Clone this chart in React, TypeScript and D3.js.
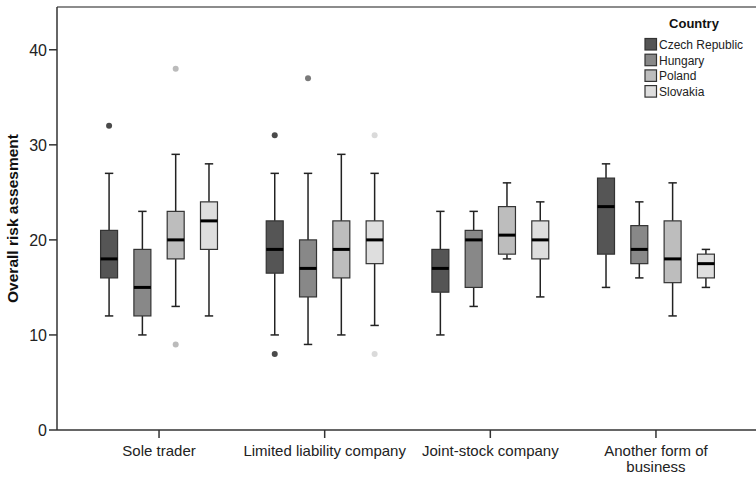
import React from "react";
import * as d3 from "d3";

const categories = ["Sole trader", "Limited liability company", "Joint-stock company", "Another form of business"];
const countries = ["Czech Republic", "Hungary", "Poland", "Slovakia"];
const yTicks = [0, 10, 20, 30, 40];

// [min, q1, median, q3, max] per category
const czech = [[12, 16, 18, 21, 27], [10, 16.5, 19, 22, 27], [10, 14.5, 17, 19, 23], [15, 18.5, 23.5, 26.5, 28]];
const hungary = [[10, 12, 15, 19, 23], [9, 14, 17, 20, 27], [13, 15, 20, 21, 23], [16, 17.5, 19, 21.5, 24]];
const poland = [[13, 18, 20, 23, 29], [10, 16, 19, 22, 29], [18, 18.5, 20.5, 23.5, 26], [12, 15.5, 18, 22, 26]];
const slovakia = [[12, 19, 22, 24, 28], [11, 17.5, 20, 22, 27], [14, 18, 20, 22, 24], [15, 16, 17.5, 18.5, 19]];

const czechOutliers = [[32], [31, 8], [], []];
const hungaryOutliers = [[], [37], [], []];
const polandOutliers = [[38, 9], [], [], []];
const slovakiaOutliers = [[], [31, 8], [], []];

const stats = [czech, hungary, poland, slovakia];
const outliers = [czechOutliers, hungaryOutliers, polandOutliers, slovakiaOutliers];
const fills = ["#555555", "#888888", "#bdbdbd", "#dedede"];
const dotColors = ["#4a4a4a", "#7a7a7a", "#bbbbbb", "#dadada"];

const W = 756;
const H = 477;
const left = 57;
const top = 7;
const bottom = 430;

export default function App() {
  const x = d3.scaleBand().domain(categories).range([left, 758]).paddingInner(0).paddingOuter(0.116);
  // boxes ~17px wide, 33.3px apart
  const sub = d3.scaleBand().domain(countries).range([-66.6, 66.6]).paddingInner(0.49).paddingOuter(0.245);
  const y = d3.scaleLinear().domain([0, 44.5]).range([bottom, top]);
  const bw = sub.bandwidth();
  const font = "'Liberation Sans', Arial, sans-serif";

  return (
    <div style={{ position: "absolute", left: 0, top: 0 }}>
      <svg width={W} height={H} style={{ display: "block", fontFamily: font }}>
        <rect width={W} height={H} fill="#fff" />
        {/* frame */}
        <line x1={left} x2={W} y1={top} y2={top} stroke="#666" strokeWidth={1.5} />
        <line x1={left} x2={left} y1={top} y2={bottom} stroke="#333" strokeWidth={1.5} />
        <line x1={left} x2={W} y1={bottom} y2={bottom} stroke="#333" strokeWidth={1.5} />

        {yTicks.map((t) => (
          <g key={t}>
            <line x1={left - 8} x2={left} y1={y(t)} y2={y(t)} stroke="#333" strokeWidth={1.5} />
            <text x={left - 10} y={y(t)} dy="0.36em" textAnchor="end" fontSize={16} fill="#222">{t}</text>
          </g>
        ))}
        <text transform={`translate(18,${(top + bottom) / 2}) rotate(-90)`} textAnchor="middle" fontSize={15.5} fontWeight="bold" fill="#111">
          Overall risk assesment
        </text>

        {categories.map((c) => {
          const cx = x(c)! + x.bandwidth() / 2;
          const words = c === "Another form of business" ? ["Another form of", "business"] : [c];
          return (
            <g key={c}>
              <line x1={cx} x2={cx} y1={bottom} y2={bottom + 8} stroke="#333" strokeWidth={1.5} />
              {words.map((w, i) => (
                <text key={i} x={cx} y={456 + i * 16} textAnchor="middle" fontSize={15} fill="#222">{w}</text>
              ))}
            </g>
          );
        })}

        {categories.map((c, ci) =>
          countries.map((k, ki) => {
            const [mn, q1, md, q3, mx] = stats[ki][ci];
            const bx = x(c)! + x.bandwidth() / 2 + sub(k)!;
            const mid = bx + bw / 2;
            return (
              <g key={c + k}>
                <line x1={mid} x2={mid} y1={y(mx)} y2={y(q3)} stroke="#222" strokeWidth={1.5} />
                <line x1={mid} x2={mid} y1={y(q1)} y2={y(mn)} stroke="#222" strokeWidth={1.5} />
                <line x1={mid - 4.2} x2={mid + 4.2} y1={y(mx)} y2={y(mx)} stroke="#222" strokeWidth={1.5} />
                <line x1={mid - 4.2} x2={mid + 4.2} y1={y(mn)} y2={y(mn)} stroke="#222" strokeWidth={1.5} />
                <rect x={bx} y={y(q3)} width={bw} height={y(q1) - y(q3)} fill={fills[ki]} stroke="#333" strokeWidth={1.2} />
                <line x1={bx} x2={bx + bw} y1={y(md)} y2={y(md)} stroke="#000" strokeWidth={3} />
                {outliers[ki][ci].map((o, oi) => (
                  <circle key={oi} cx={mid} cy={y(o)} r={3} fill={dotColors[ki]} />
                ))}
              </g>
            );
          })
        )}

        {/* legend */}
        <text x={694} y={28} textAnchor="middle" fontSize={13} fontWeight="bold" fill="#111">Country</text>
        {countries.map((k, i) => (
          <g key={k} transform={`translate(645,${38.5 + i * 15.7})`}>
            <rect width={11.5} height={11.5} fill={fills[i]} stroke="#333" strokeWidth={1.2} />
            <text x={14} y={10.5} fontSize={12} fill="#222">{k}</text>
          </g>
        ))}
      </svg>
    </div>
  );
}
